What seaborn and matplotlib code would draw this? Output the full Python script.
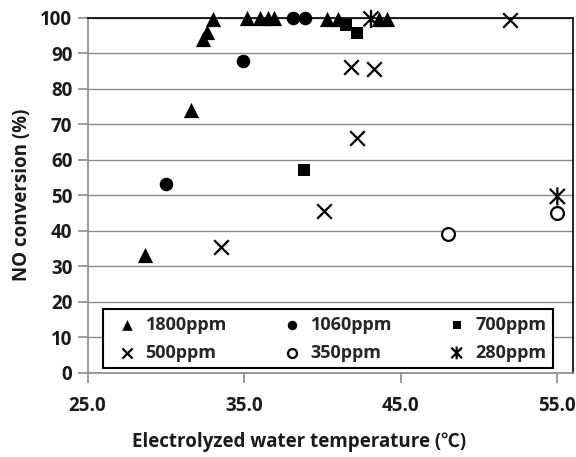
import matplotlib
matplotlib.use("Agg")
import matplotlib.pyplot as plt
import seaborn as sns
import pandas as pd
from matplotlib.path import Path

# Data
t_1800 = [28.7, 31.6, 32.4, 32.6, 33.0, 35.2, 36.0, 36.5, 36.9, 40.3, 41.0, 43.6, 44.1]
c_1800 = [33.0, 74.0, 94.0, 96.0, 99.5, 100.0, 100.0, 99.8, 99.8, 99.5, 99.5, 99.5, 99.5]
t_1060 = [30.0, 34.9, 38.1, 38.9]
c_1060 = [53.0, 87.7, 99.8, 99.8]
t_700 = [38.8, 41.5, 42.2]
c_700 = [57.0, 98.0, 95.5]
t_500 = [33.5, 40.1, 42.2, 41.8, 43.3, 52.0]
c_500 = [35.3, 45.5, 66.0, 86.0, 85.6, 99.2]
t_350 = [48.0, 55.0]
c_350 = [39.0, 45.0]
t_280 = [43.1, 55.0]
c_280 = [99.6, 49.6]
labels = ["1800ppm", "1060ppm", "700ppm", "500ppm", "350ppm", "280ppm"]

sns.set_theme(style="white")
plt.rcParams['font.family'] = ['Open Sans', 'Noto Sans CJK KR', 'DejaVu Sans']
plt.rcParams['font.weight'] = 'bold'

fig = plt.figure(figsize=(5.76, 4.57), dpi=100)
ax = fig.add_axes([0.152, 0.1849, 0.8428, 0.7768])

star = Path([(-1, -1), (1, 1), (-1, 1), (1, -1), (0, -1.2), (0, 1.2)],
            [Path.MOVETO, Path.LINETO, Path.MOVETO, Path.LINETO, Path.MOVETO, Path.LINETO])

series = [
    (t_1800, c_1800, labels[0], dict(marker='^', s=120, color='black', edgecolor='black', linewidth=0)),
    (t_1060, c_1060, labels[1], dict(marker='o', s=95, color='black', edgecolor='black', linewidth=0)),
    (t_700, c_700, labels[2], dict(marker='s', s=85, color='black', edgecolor='black', linewidth=0)),
    (t_500, c_500, labels[3], dict(marker='x', s=110, color='black', linewidth=1.6)),
    (t_350, c_350, labels[4], dict(marker='o', s=85, facecolor='white', edgecolor='black', linewidth=1.6)),
    (t_280, c_280, labels[5], dict(marker=star, s=170, facecolor='none', edgecolor='black', linewidth=1.6)),
]

for xs, ys, lab, kw in series:
    df = pd.DataFrame({"T": xs, "C": ys})
    sns.scatterplot(data=df, x="T", y="C", ax=ax, label=lab, zorder=3, clip_on=False, **kw)

ax.set_xlim(25, 56)
ax.set_ylim(0, 100)
ax.set_xticks([25, 35, 45, 55])
ax.set_xticklabels(["25.0", "35.0", "45.0", "55.0"])
ax.set_yticks(range(0, 101, 10))

grid_c = '#8a8a8a'
ax.yaxis.grid(True, color=grid_c, linewidth=1.0)
ax.xaxis.grid(False)
ax.set_axisbelow(True)

for side in ['left', 'bottom']:
    ax.spines[side].set_color(grid_c)
    ax.spines[side].set_linewidth(1.2)
for side in ['top', 'right']:
    ax.spines[side].set_color('black')
    ax.spines[side].set_linewidth(1.2)
    ax.spines[side].set_visible(True)

ax.tick_params(axis='both', which='major', direction='out', length=7, width=1.2,
               color=grid_c, labelsize=13.5, pad=4, bottom=True, left=True)
ax.tick_params(axis='x', pad=10)
for lbl in ax.get_xticklabels() + ax.get_yticklabels():
    lbl.set_fontweight('bold')
    lbl.set_color('#1a1a1a')

ax.set_xlabel("Electrolyzed water temperature (℃)", fontsize=13.5, fontweight='bold', color='#1a1a1a')
ax.xaxis.set_label_coords(0.4356, -0.168)
ax.set_ylabel("NO conversion (%)", fontsize=13.5, fontweight='bold', labelpad=6, color='#1a1a1a')

h, l = ax.get_legend_handles_labels()
order = [0, 3, 1, 4, 2, 5]
leg = ax.legend([h[i] for i in order], [l[i] for i in order], ncol=3, loc='lower left',
                bbox_to_anchor=(0.0319, 0.0127, 0.927, 0.180), mode='expand',
                frameon=True, fancybox=False, edgecolor='black', framealpha=1,
                prop={'weight': 'bold', 'size': 13}, markerscale=0.7,
                handletextpad=0.1, columnspacing=1.0, borderaxespad=0, handlelength=1.9,
                labelspacing=0.55, borderpad=0.35)
leg.get_frame().set_linewidth(1.5)
leg.set_zorder(5)

fig.savefig("out.png", dpi=100)
